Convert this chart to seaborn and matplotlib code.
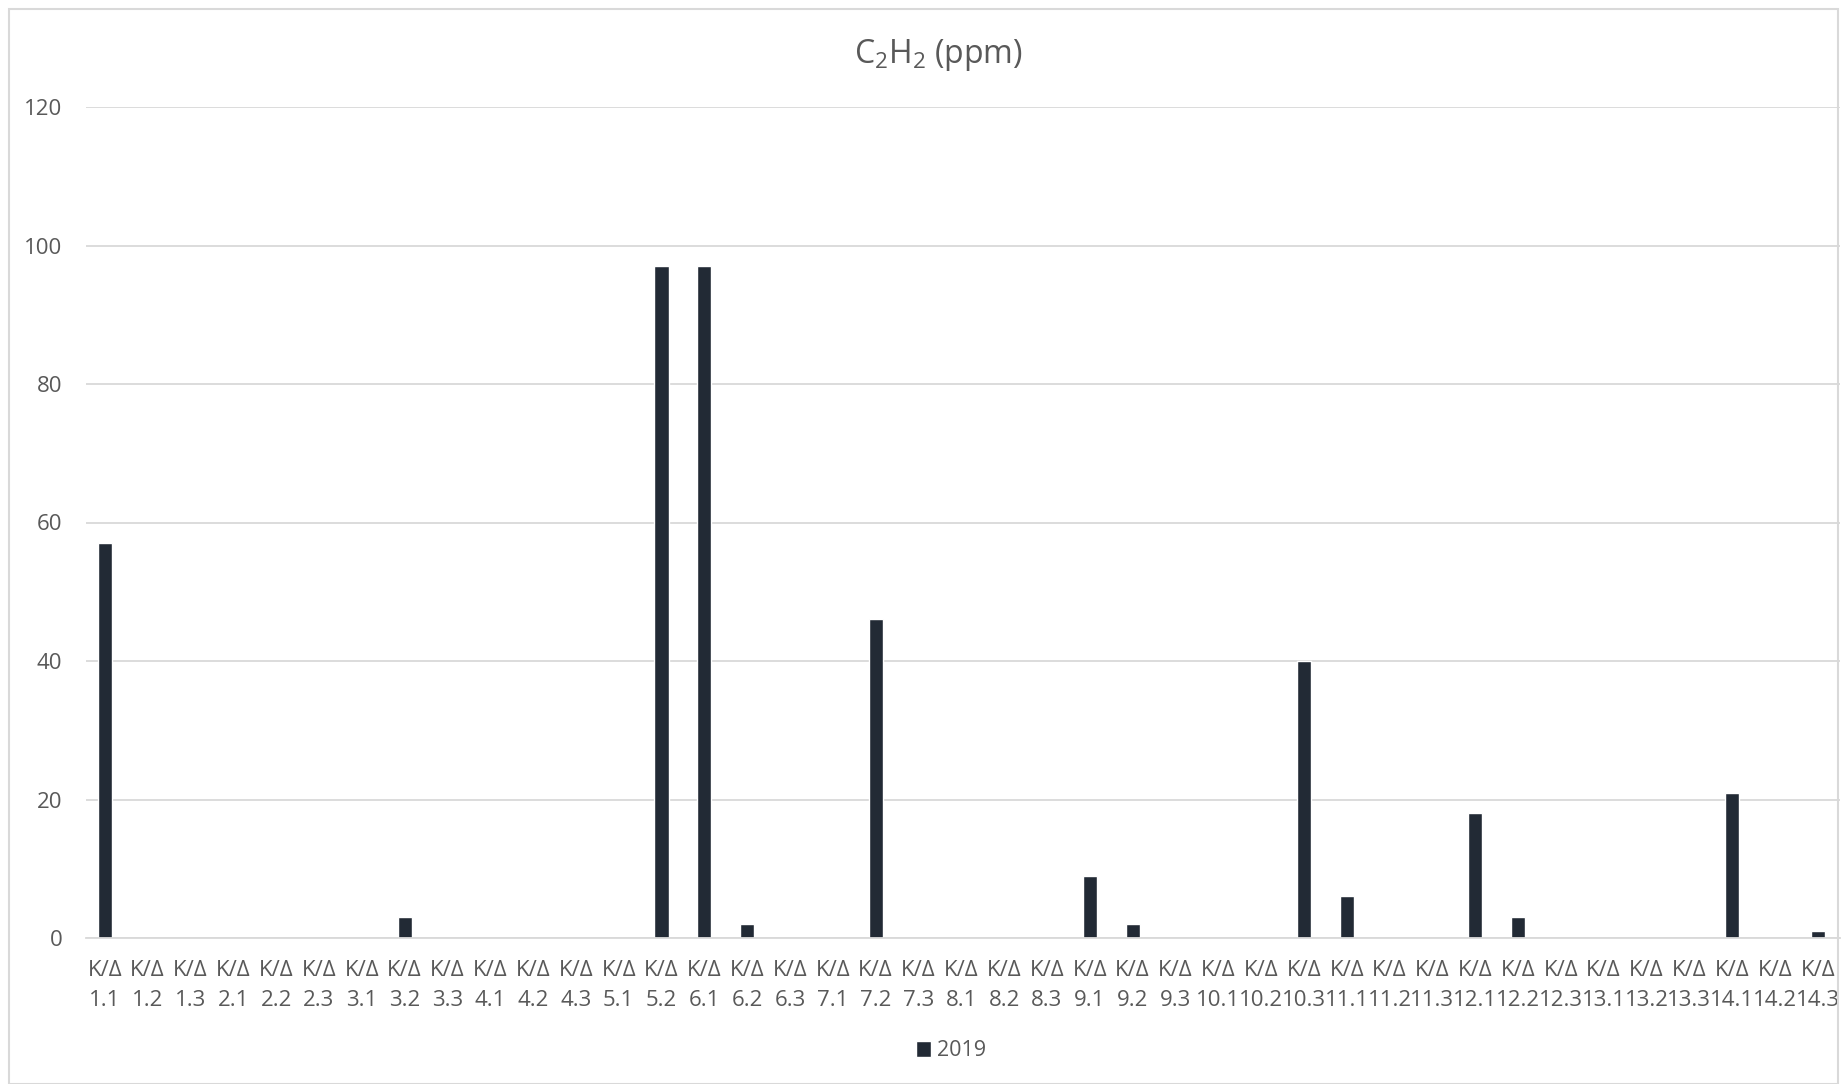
import numpy as np
import pandas as pd
import matplotlib
matplotlib.use('Agg')
import matplotlib.pyplot as plt
import seaborn as sns

sns.set_style("white")
plt.rcParams['font.family'] = ['Open Sans', 'DejaVu Sans']

# data
codes = ['1.1', '1.2', '1.3', '2.1', '2.2', '2.3', '3.1', '3.2', '3.3',
         '4.1', '4.2', '4.3', '5.1', '5.2', '6.1', '6.2', '6.3', '7.1',
         '7.2', '7.3', '8.1', '8.2', '8.3', '9.1', '9.2', '9.3', '10.1',
         '10.2', '10.3', '11.1', '11.2', '11.3', '12.1', '12.2', '12.3',
         '13.1', '13.2', '13.3', '14.1', '14.2', '14.3']
values = [57, 0, 0, 0, 0, 0, 0, 3, 0,
          0, 0, 0, 0, 97, 97, 2, 0, 0,
          46, 0, 0, 0, 0, 9, 2, 0, 0,
          0, 40, 6, 0, 0, 18, 3, 0,
          0, 0, 0, 21, 0, 1]
labels = ['K/Δ\n' + c for c in codes]
series = '2019'

df = pd.DataFrame({'cat': labels, 'val': values})

txt = '#595959'
bar_col = '#222a35'

fig = plt.figure(figsize=(18.47, 10.84), dpi=100)
ax = fig.add_axes([86/1847, 1 - 938/1084, (1840 - 86)/1847, (938 - 107)/1084])

sns.barplot(data=df, x='cat', y='val', color=bar_col, width=0.33,
            saturation=1, ax=ax, label=series)

ax.set_ylim(0, 120)
ax.set_yticks(range(0, 121, 20))
ax.set_xticks(range(len(labels)))
ax.set_xticklabels(labels, linespacing=1.55)
ax.set_xlim(-0.44, len(codes) - 0.48)
ax.yaxis.grid(True, color='#d9d9d9', linewidth=1.3)
ax.set_axisbelow(True)
for s in ['top', 'right', 'left']:
    ax.spines[s].set_visible(False)
ax.spines['bottom'].set_color('#d9d9d9')
ax.spines['bottom'].set_linewidth(1.3)
ax.tick_params(axis='both', length=0, colors=txt, labelsize=16)
ax.tick_params(axis='x', pad=16)
ax.tick_params(axis='y', pad=17)
ax.set_xlabel('')
ax.set_ylabel('')

fig.text(0.508, 1 - 55/1084, r'$\mathregular{C_2H_2}$ (ppm)', ha='center',
         va='center', fontsize=23, color=txt)

leg = ax.legend(loc='center', bbox_to_anchor=(0.515, 1 - 1051/1084),
                bbox_transform=fig.transFigure, frameon=False, fontsize=15.5,
                handlelength=0.7, handleheight=0.7, handletextpad=0.3)
for t in leg.get_texts():
    t.set_color(txt)

# chart border
fig.patches.append(plt.Rectangle((9/1847, 0), 1 - 18/1847, 1 - 9/1084,
                                 transform=fig.transFigure, fill=False,
                                 edgecolor='#d9d9d9', linewidth=1.5))

fig.savefig('out.png', dpi=100)
